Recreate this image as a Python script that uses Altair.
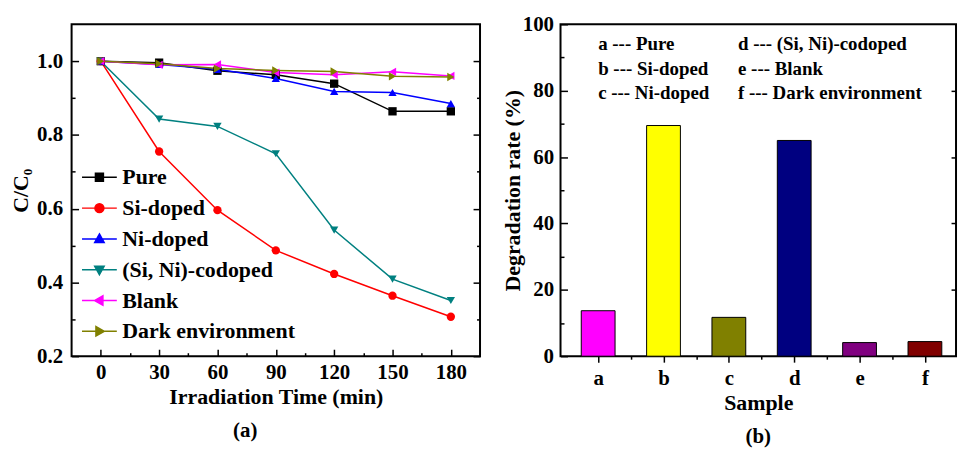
import altair as alt
import pandas as pd

FONT = "Liberation Serif"

# ---------------- data: panel (a) ----------------
times = [0, 30, 60, 90, 120, 150, 180]
series_names = ["Pure", "Si-doped", "Ni-doped", "(Si, Ni)-codoped", "Blank", "Dark environment"]
pure = [1.0, 0.996, 0.974, 0.963, 0.939, 0.864, 0.864]
si_doped = [1.0, 0.755, 0.596, 0.487, 0.423, 0.364, 0.307]
ni_doped = [1.0, 0.991, 0.978, 0.953, 0.918, 0.915, 0.885]
codoped = [1.0, 0.843, 0.823, 0.749, 0.542, 0.409, 0.351]
blank = [1.0, 0.990, 0.991, 0.969, 0.963, 0.971, 0.960]
dark = [1.0, 0.993, 0.980, 0.975, 0.972, 0.959, 0.957]
series_values = [pure, si_doped, ni_doped, codoped, blank, dark]
line_colors = ["#000000", "#FF0000", "#0000FF", "#008080", "#FF00FF", "#808000"]
marker_shapes = ["square", "circle", "triangle-up", "triangle-down", "triangle-left", "triangle-right"]

# ---------------- data: panel (b) ----------------
samples = ["a", "b", "c", "d", "e", "f"]
rates = [13.7, 69.5, 11.7, 65.0, 4.1, 4.4]
bar_colors = ["#FF00FF", "#FFFF00", "#808000", "#000080", "#800080", "#800000"]
ann_text = ["a --- Pure", "b --- Si-doped", "c --- Ni-doped",
            "d --- (Si, Ni)-codoped", "e --- Blank", "f --- Dark environment"]
ann_x = [1, 1, 1, 3.14, 3.14, 3.14]
ann_y = [94, 86.6, 79.4, 94, 86.6, 79.4]

# ---------------- tables ----------------
rows = []
for name, vals in zip(series_names, series_values):
    for t, v in zip(times, vals):
        rows.append({"time": t, "ratio": v, "series": name})
df_a = pd.DataFrame(rows)

df_b = pd.DataFrame({"sample": samples, "pos": list(range(1, len(samples) + 1)), "rate": rates})
df_ann = pd.DataFrame({"text": ann_text, "x": ann_x, "y": ann_y})

# ---------------- panel (a) ----------------
W_A, H_A = 411, 334
xs_a = alt.Scale(domain=[-15, 195], nice=False, zero=False)
ys_a = alt.Scale(domain=[0.2, 1.1], nice=False, zero=False)
col_scale = alt.Scale(domain=series_names, range=line_colors)

# legend symbol paths: line segment + marker
LINE = "M-3.5,0H3.5 "
legend_paths = [
    LINE + "M-0.8,-0.8H0.8V0.8H-0.8Z",
    LINE + "M-0.9,0A0.9,0.9 0 1,1 0.9,0A0.9,0.9 0 1,1 -0.9,0Z",
    LINE + "M0,-1L0.95,0.7L-0.95,0.7Z",
    LINE + "M0,1L0.95,-0.7L-0.95,-0.7Z",
    LINE + "M-1,0L0.7,-0.95L0.7,0.95Z",
    LINE + "M1,0L-0.7,-0.95L-0.7,0.95Z",
]

base_a = alt.Chart(df_a)

x_major_a = alt.Axis(values=times, tickSize=7, offset=-7, domain=False, grid=False,
                     labelPadding=5, titlePadding=5, title="Irradiation Time (min)", orient="bottom")
y_major_a = alt.Axis(values=[0.2, 0.4, 0.6, 0.8, 1.0], tickSize=7, offset=-7, domain=False, grid=False,
                     labelPadding=9, titlePadding=4, title="C/C₀", format=".1f", orient="left")

lines_a = base_a.mark_line(strokeWidth=1.5).encode(
    x=alt.X("time:Q", scale=xs_a, axis=x_major_a),
    y=alt.Y("ratio:Q", scale=ys_a, axis=y_major_a),
    color=alt.Color("series:N", scale=col_scale, legend=None),
    detail="series:N",
)

points_a = base_a.mark_point(filled=True, size=70, opacity=1).encode(
    x=alt.X("time:Q", scale=xs_a, axis=alt.Axis(values=[15, 45, 75, 105, 135, 165], tickSize=3.5, offset=-3.5,
                                                domain=False, labels=False, grid=False, title=None, orient="bottom")),
    y=alt.Y("ratio:Q", scale=ys_a, axis=alt.Axis(values=[0.3, 0.5, 0.7, 0.9], tickSize=3.5, offset=-3.5,
                                                 domain=False, labels=False, grid=False, title=None, orient="left")),
    color=alt.Color("series:N", scale=col_scale, legend=None),
    shape=alt.Shape("series:N", scale=alt.Scale(domain=series_names, range=marker_shapes), legend=None),
)

right_major_a = base_a.mark_point(opacity=0).encode(
    x=alt.X("time:Q", scale=xs_a, axis=None),
    y=alt.Y("ratio:Q", scale=ys_a, axis=alt.Axis(values=[0.2, 0.4, 0.6, 0.8, 1.0], tickSize=7, offset=-7,
                                                 domain=False, labels=False, grid=False, title=None, orient="right")),
)
right_minor_a = base_a.mark_point(opacity=0).encode(
    x=alt.X("time:Q", scale=xs_a, axis=None),
    y=alt.Y("ratio:Q", scale=ys_a, axis=alt.Axis(values=[0.3, 0.5, 0.7, 0.9], tickSize=3.5, offset=-3.5,
                                                 domain=False, labels=False, grid=False, title=None, orient="right")),
)

leg = alt.Legend(title=None, orient="none", legendX=17, legendY=143, padding=0,
                 symbolSize=100, symbolStrokeWidth=1.5, labelOffset=12, rowPadding=9,
                 labelFont=FONT, labelFontSize=22, labelFontWeight="bold", labelColor="black",
                 labelLimit=400)
legend_a = base_a.transform_filter("false").mark_point(filled=True, strokeWidth=1.5, opacity=1).encode(
    x=alt.X("time:Q", scale=xs_a, axis=None),
    y=alt.Y("ratio:Q", scale=ys_a, axis=None),
    fill=alt.Fill("series:N", scale=alt.Scale(domain=series_names, range=line_colors), legend=leg),
    stroke=alt.Stroke("series:N", scale=alt.Scale(domain=series_names, range=line_colors), legend=leg),
    shape=alt.Shape("series:N", scale=alt.Scale(domain=series_names, range=legend_paths), legend=leg),
)

panel_a = alt.layer(lines_a, points_a, right_major_a, right_minor_a, legend_a).resolve_scale(
    shape="independent", fill="independent", stroke="independent", color="independent"
).resolve_axis(x="independent", y="independent").properties(
    width=W_A, height=H_A,
    title=alt.TitleParams("(a)", orient="bottom", anchor="middle", frame="bounds", offset=12,
                          font=FONT, fontSize=21, fontWeight="bold", color="black"),
)

# ---------------- panel (b) ----------------
W_B, H_B = 398, 334
xs_b = alt.Scale(domain=[0.5, 6.4], nice=False, zero=False)
ys_b = alt.Scale(domain=[0, 100], nice=False)
label_expr = "[" + ",".join("'%s'" % s for s in samples) + "][datum.value - 1]"

bars = alt.Chart(df_b).mark_bar(size=34, stroke="black", strokeWidth=1).encode(
    x=alt.X("pos:Q", scale=xs_b, axis=alt.Axis(values=list(range(1, len(samples) + 1)), labelExpr=label_expr,
                                              tickSize=6, domain=False, grid=False, labelPadding=5, titlePadding=5,
                                              title="Sample", orient="bottom")),
    y=alt.Y("rate:Q", scale=ys_b, axis=alt.Axis(values=[0, 20, 40, 60, 80, 100], tickSize=7, offset=-7,
                                               domain=False, grid=False, labelPadding=7, titlePadding=-2,
                                               title="Degradation rate (%)", orient="left")),
    fill=alt.Fill("sample:N", scale=alt.Scale(domain=samples, range=bar_colors), legend=None),
)

minor_b = alt.Chart(df_b).mark_point(opacity=0).encode(
    x=alt.X("pos:Q", scale=xs_b, axis=alt.Axis(values=[1.5, 2.5, 3.5, 4.5, 5.5], tickSize=3, domain=False,
                                              labels=False, grid=False, title=None, orient="bottom")),
    y=alt.Y("rate:Q", scale=ys_b, axis=alt.Axis(values=[10, 30, 50, 70, 90], tickSize=3.5, offset=-3.5,
                                               domain=False, labels=False, grid=False, title=None, orient="left")),
)

right_b = alt.Chart(df_b).mark_point(opacity=0).encode(
    x=alt.X("pos:Q", scale=xs_b, axis=None),
    y=alt.Y("rate:Q", scale=ys_b, axis=alt.Axis(values=[20, 40, 60, 80], tickSize=5, offset=-5,
                                               domain=False, labels=False, grid=False, title=None, orient="right")),
)

ann_b = alt.Chart(df_ann).mark_text(align="left", baseline="middle", font=FONT, fontSize=19,
                                     fontWeight="bold", color="black").encode(
    x=alt.X("x:Q", scale=xs_b, axis=None),
    y=alt.Y("y:Q", scale=ys_b, axis=None),
    text="text:N",
)

panel_b = alt.layer(bars, minor_b, right_b, ann_b).resolve_axis(
    x="independent", y="independent"
).properties(
    width=W_B, height=H_B,
    title=alt.TitleParams("(b)", orient="bottom", anchor="middle", frame="group", offset=12,
                          font=FONT, fontSize=21, fontWeight="bold", color="black"),
)

chart = alt.hconcat(panel_a, panel_b, spacing=18).resolve_scale(
    fill="independent", stroke="independent", shape="independent", color="independent"
).properties(
    background="white", padding={"left": 0, "top": 3, "right": 1, "bottom": 0}
).configure_view(
    stroke="black", strokeWidth=2
).configure_axis(
    labelFont=FONT, labelFontSize=21, labelFontWeight="bold", labelColor="black",
    titleFont=FONT, titleFontSize=22, titleFontWeight="bold", titleColor="black",
    tickColor="black", tickWidth=1.5,
)

chart.save("out.html", embed_options={"renderer": "svg", "actions": False})
